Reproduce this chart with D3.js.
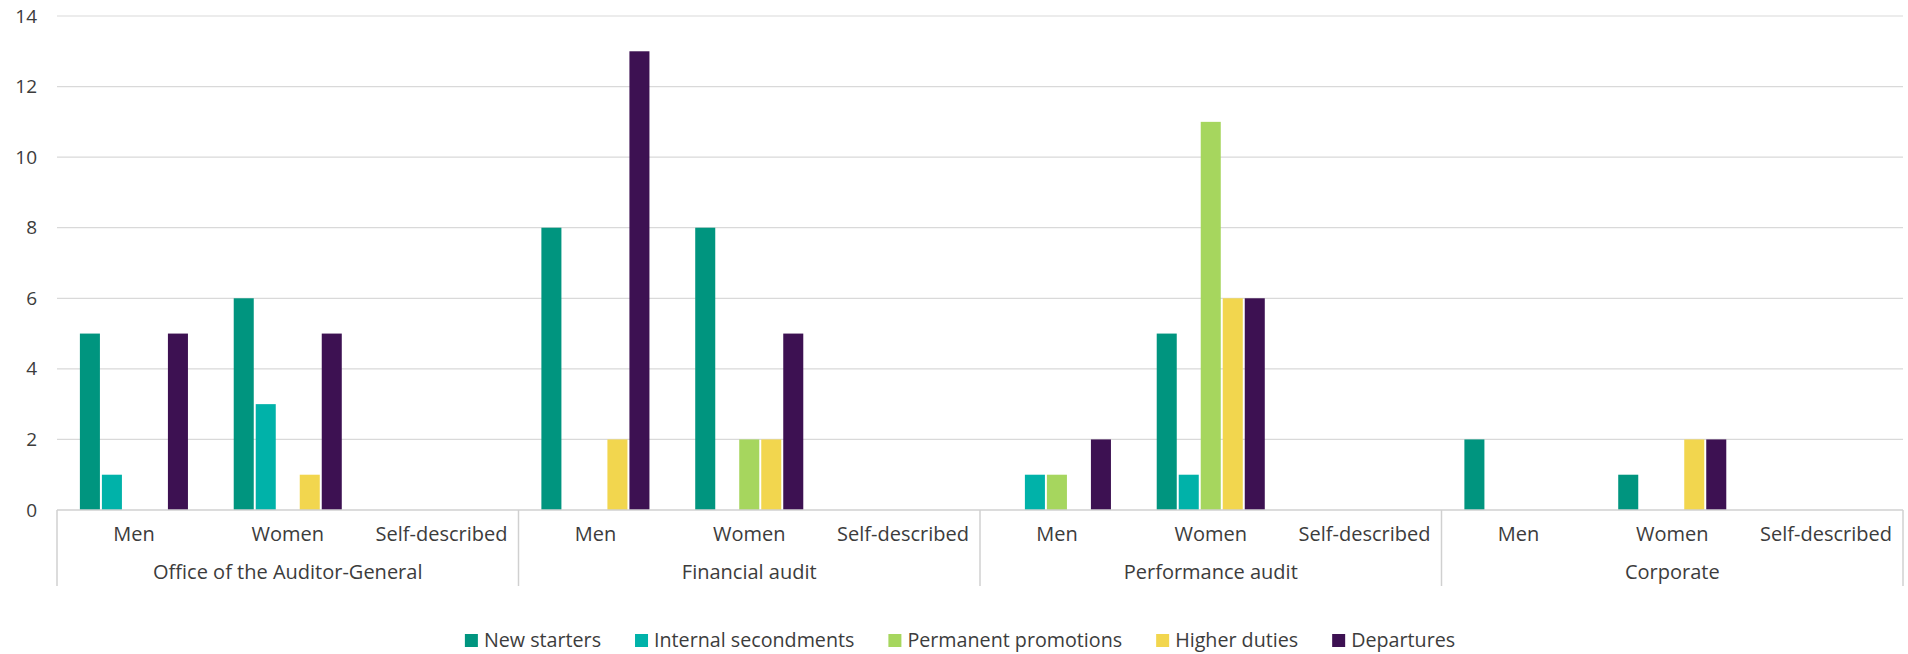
<!DOCTYPE html>
<html>
<head>
<meta charset="utf-8">
<script src="https://cdn.jsdelivr.net/npm/d3@7"></script>
<style>
  body { margin: 0; background: #fff; }
  text { font-family: "Open Sans", sans-serif; fill: #3c3c3c; }
</style>
</head>
<body>
<svg id="chart" width="1908" height="654"></svg>
<script>
// Data: 4 units x 3 gender groups, 5 series
const groups = ["Office of the Auditor-General", "Financial audit", "Performance audit", "Corporate"];
const genders = ["Men", "Women", "Self-described"];
const seriesNames = ["New starters", "Internal secondments", "Permanent promotions", "Higher duties", "Departures"];
const seriesColors = ["#00957f", "#00b2a9", "#a6d65e", "#f2d64e", "#3d1152"];

// values in order: group by group, Men / Women / Self-described
const newStarters         = [5, 6, 0,  8, 8, 0,  0, 5, 0,  2, 1, 0];
const internalSecondments = [1, 3, 0,  0, 0, 0,  1, 1, 0,  0, 0, 0];
const permanentPromotions = [0, 0, 0,  0, 2, 0,  1, 11, 0, 0, 0, 0];
const higherDuties        = [0, 1, 0,  2, 2, 0,  0, 6, 0,  0, 2, 0];
const departures          = [5, 5, 0, 13, 5, 0,  2, 6, 0,  0, 2, 0];

const yTicks = [0, 2, 4, 6, 8, 10, 12, 14];

const seriesValues = [newStarters, internalSecondments, permanentPromotions, higherDuties, departures];

// Build the category keys
const keys = [];
groups.forEach((g) => genders.forEach((s) => keys.push({ group: g, gender: s, key: g + "|" + s })));

const rows = keys.map((k, i) => ({
  key: k.key,
  values: seriesNames.map((name, j) => ({ name: name, value: seriesValues[j][i] }))
}));

// Set up the SVG
const svg = d3.select("#chart");
const margin = { top: 16, right: 5, bottom: 144, left: 57 };
const width = +svg.attr("width") - margin.left - margin.right;
const height = +svg.attr("height") - margin.top - margin.bottom;
const g = svg.append("g").attr("transform", `translate(${margin.left},${margin.top})`);

// Scales
const x0 = d3.scaleBand().domain(keys.map((d) => d.key)).range([0, width]);
const xg = d3.scaleBand().domain(groups).range([0, width]);
const x1 = d3.scaleBand()
  .domain(seriesNames)
  .range([0, x0.bandwidth()])
  .paddingInner(0.09)
  .paddingOuter(1.04);
const y = d3.scaleLinear().domain([0, 14]).range([height, 0]);
const color = d3.scaleOrdinal().domain(seriesNames).range(seriesColors);

// Gridlines
g.append("g")
  .selectAll("line")
  .data(yTicks.filter((t) => t > 0))
  .enter()
  .append("line")
  .attr("x1", 0)
  .attr("x2", width)
  .attr("y1", (d) => y(d))
  .attr("y2", (d) => y(d))
  .attr("stroke", "#d9d9d9")
  .attr("stroke-width", 1.2);

// Y axis labels
const yAxis = g.append("g").call(d3.axisLeft(y).tickValues(yTicks).tickSize(0).tickPadding(20));
yAxis.select(".domain").remove();
yAxis.selectAll("text")
  .style("font-family", '"Open Sans", sans-serif')
  .style("font-size", "19px")
  .attr("fill", "#3c3c3c");

// Bars
g.append("g")
  .selectAll("g")
  .data(rows)
  .enter()
  .append("g")
  .attr("transform", (d) => `translate(${x0(d.key)},0)`)
  .selectAll("rect")
  .data((d) => d.values.filter((v) => v.value > 0))
  .enter()
  .append("rect")
  .attr("x", (d) => x1(d.name))
  .attr("y", (d) => y(d.value))
  .attr("width", x1.bandwidth())
  .attr("height", (d) => y(0) - y(d.value))
  .attr("fill", (d) => color(d.name));

// Category axis: baseline and group separators
const axis = g.append("g").attr("transform", `translate(0,${height})`);
axis.append("line")
  .attr("x1", 0).attr("x2", width)
  .attr("stroke", "#d0d0d0").attr("stroke-width", 1.5);
axis.selectAll(".sep")
  .data(groups.map((d) => xg(d)).concat([width]))
  .enter()
  .append("line")
  .attr("class", "sep")
  .attr("x1", (d) => d).attr("x2", (d) => d)
  .attr("y1", 0).attr("y2", 76)
  .attr("stroke", "#d0d0d0").attr("stroke-width", 1.5);

axis.selectAll(".sub")
  .data(keys)
  .enter()
  .append("text")
  .attr("class", "sub")
  .attr("x", (d) => x0(d.key) + x0.bandwidth() / 2)
  .attr("y", 31)
  .attr("text-anchor", "middle")
  .style("font-size", "20px")
  .text((d) => d.gender);

axis.selectAll(".grp")
  .data(groups)
  .enter()
  .append("text")
  .attr("class", "grp")
  .attr("x", (d) => xg(d) + xg.bandwidth() / 2)
  .attr("y", 69)
  .attr("text-anchor", "middle")
  .style("font-size", "20px")
  .text((d) => d);

// Legend, centred under the chart
const legend = svg.append("g").attr("transform", "translate(0,647)");
const items = legend.selectAll("g")
  .data(seriesNames)
  .enter()
  .append("g");
items.append("rect")
  .attr("y", -13)
  .attr("width", 13)
  .attr("height", 13)
  .attr("fill", (d) => color(d));
items.append("text")
  .attr("x", 19)
  .style("font-size", "19.7px")
  .text((d) => d);

const widths = [];
items.each(function () {
  widths.push(19 + this.querySelector("text").getComputedTextLength());
});
const total = d3.sum(widths) + 34 * (widths.length - 1);
let xpos = 960 - total / 2;
items.attr("transform", (d, i) => {
  const t = `translate(${xpos},0)`;
  xpos += widths[i] + 34;
  return t;
});
</script>
</body>
</html>
